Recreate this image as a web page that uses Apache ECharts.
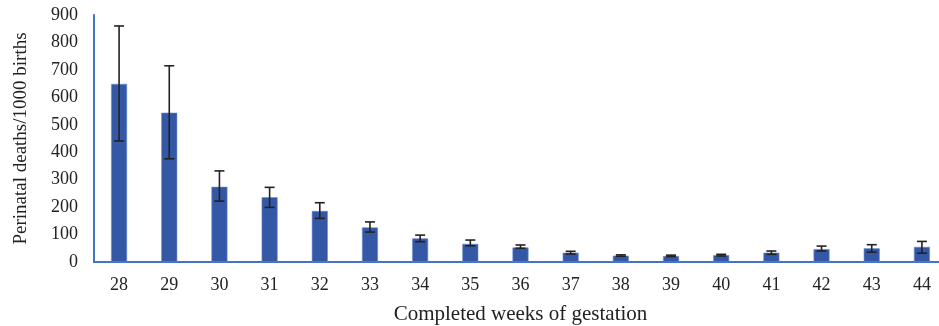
<!DOCTYPE html>
<html><head><meta charset="utf-8">
<script src="https://cdn.jsdelivr.net/npm/echarts@6/dist/echarts.min.js"></script>
<style>html,body{margin:0;padding:0;background:#fff}#c{width:939px;height:326px}</style>
</head><body><div id="c"></div>
<script>
var weeks = ['28','29','30','31','32','33','34','35','36','37','38','39','40','41','42','43','44'];
var deaths = [649, 544, 274, 236, 186, 126, 86, 66, 53, 34, 23, 22, 25, 34, 47, 50, 55];
var errLow = [441, 376, 222, 199, 159, 109, 74, 59, 50, 29, 21, 20, 22, 28, 40, 36, 32];
var errHigh = [860, 715, 332, 272, 216, 146, 98, 80, 62, 39, 26, 25, 28, 40, 58, 63, 75];
var yTicks = [0, 100, 200, 300, 400, 500, 600, 700, 800, 900];

var errData = weeks.map(function(w, i){ return [i, errLow[i], errHigh[i]]; });
var chart = echarts.init(document.getElementById('c'));
var font = '"Liberation Serif", "Times New Roman", serif';
chart.setOption({
  animation: false,
  grid: {left: 94, top: 15, width: 853, height: 247, outerBoundsMode: 'none', containLabel: false},
  xAxis: {
    type: 'category', data: weeks,
    name: 'Completed weeks of gestation', nameLocation: 'middle', nameGap: 42,
    nameTextStyle: {fontFamily: font, fontSize: 21, color: '#222'},
    axisLine: {lineStyle: {color: '#4472C4', width: 2}},
    axisTick: {show: false},
    axisLabel: {fontFamily: font, fontSize: 18, color: '#222', margin: 14}
  },
  yAxis: {
    type: 'value', min: yTicks[0], max: yTicks[yTicks.length-1], interval: 100,
    name: 'Perinatal deaths/1000 births', nameLocation: 'middle', nameGap: 63,
    nameTextStyle: {fontFamily: font, fontSize: 19, color: '#222'},
    axisLine: {show: true, lineStyle: {color: '#4472C4', width: 2}},
    axisTick: {show: false},
    splitLine: {show: false},
    axisLabel: {fontFamily: font, fontSize: 18, color: '#222', margin: 16}
  },
  series: [{
    type: 'bar', data: deaths, barWidth: 16,
    itemStyle: {color: '#3457A6', borderColor: '#6E8FD0', borderWidth: 0.6}
  }, {
    type: 'custom', data: errData, z: 10,
    renderItem: function(params, api){
      var x = api.value(0);
      var lo = api.coord([x, api.value(1)]);
      var hi = api.coord([x, api.value(2)]);
      var hw = 5;
      var st = {stroke: '#222', lineWidth: 1.6};
      return {type: 'group', children: [
        {type: 'line', shape: {x1: lo[0], y1: lo[1], x2: hi[0], y2: hi[1]}, style: st},
        {type: 'line', shape: {x1: hi[0]-hw, y1: hi[1], x2: hi[0]+hw, y2: hi[1]}, style: st},
        {type: 'line', shape: {x1: lo[0]-hw, y1: lo[1], x2: lo[0]+hw, y2: lo[1]}, style: st}
      ]};
    }
  }]
});
</script></body></html>
